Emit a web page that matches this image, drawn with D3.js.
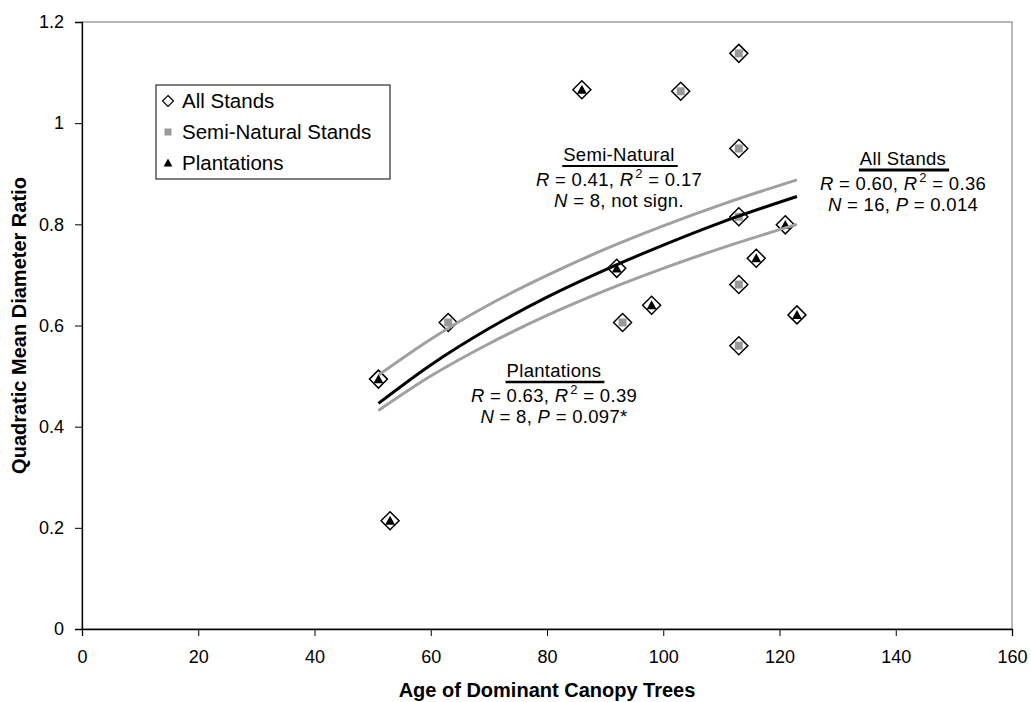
<!DOCTYPE html>
<html>
<head>
<meta charset="utf-8">
<script src="https://cdn.jsdelivr.net/npm/d3@7"></script>
<style>
  body { margin: 0; background: #fff; }
  svg text { font-family: "Liberation Sans", Arial, sans-serif; fill: #000; }
</style>
</head>
<body>
<div id="chart"></div>
<script>
// semi-natural stands
const semiAge = [113, 103, 113, 113, 113, 93, 63, 113];
const semiQmd = [1.138, 1.063, 0.950, 0.815, 0.681, 0.606, 0.606, 0.560];
// plantations
const plantAge = [86, 121, 116, 92, 98, 123, 51, 53];
const plantQmd = [1.066, 0.799, 0.733, 0.713, 0.640, 0.621, 0.494, 0.214];

// fitted curve (all stands) and confidence band
const curveAge = [51, 60, 70, 80, 90, 100, 110, 123];
const fitQmd = [0.446, 0.522, 0.594, 0.656, 0.710, 0.759, 0.804, 0.855];
const upperQmd = [0.502, 0.573, 0.641, 0.699, 0.751, 0.797, 0.839, 0.888];
const lowerQmd = [0.432, 0.500, 0.564, 0.620, 0.669, 0.713, 0.753, 0.800];

const xTicks = [0, 20, 40, 60, 80, 100, 120, 140, 160];
const yTicks = [0, 0.2, 0.4, 0.6, 0.8, 1, 1.2];
const legendItems = ['All Stands', 'Semi-Natural Stands', 'Plantations'];

const width = 1031, height = 702;
const margin = { top: 22, right: 19, bottom: 73, left: 82 };
const plotW = width - margin.left - margin.right;
const plotH = height - margin.top - margin.bottom;

const svg = d3.select('#chart').append('svg')
    .attr('width', width)
    .attr('height', height);

const plot = svg.append('g')
    .attr('transform', `translate(${margin.left},${margin.top})`);

const x = d3.scaleLinear().domain([0, 160]).range([0, plotW]);
const y = d3.scaleLinear().domain([0, 1.2]).range([plotH, 0]);

// plot frame (grey top/right)
plot.append('rect')
    .attr('x', 0).attr('y', 0)
    .attr('width', plotW).attr('height', plotH)
    .attr('fill', 'none')
    .attr('stroke', '#a0a0a0')
    .attr('stroke-width', 1.5);

// axes
const xAxis = plot.append('g')
    .attr('transform', `translate(0,${plotH})`)
    .call(d3.axisBottom(x).tickValues(xTicks).tickSize(7).tickPadding(14).tickFormat(d3.format('d')));
const yAxis = plot.append('g')
    .call(d3.axisLeft(y).tickValues(yTicks).tickSize(7).tickPadding(11).tickFormat(d => d === 0 ? '0' : d === 1 ? '1' : d.toFixed(1)));

[xAxis, yAxis].forEach(g => {
    g.select('.domain').attr('stroke', '#000').attr('stroke-width', 1.3);
    g.selectAll('.tick line').attr('stroke', '#000').attr('stroke-width', 1);
    g.selectAll('.tick text')
        .attr('font-size', '18px')
        .attr('font-family', '"Liberation Sans", Arial, sans-serif')
        .attr('fill', '#000');
});

// axis titles
svg.append('text')
    .attr('x', margin.left + plotW / 2)
    .attr('y', 697)
    .attr('text-anchor', 'middle')
    .attr('font-size', '20px')
    .attr('font-weight', 'bold')
    .text('Age of Dominant Canopy Trees');

svg.append('text')
    .attr('transform', 'rotate(-90)')
    .attr('x', -(margin.top + plotH / 2))
    .attr('y', 26)
    .attr('text-anchor', 'middle')
    .attr('font-size', '20px')
    .attr('font-weight', 'bold')
    .text('Quadratic Mean Diameter Ratio');

// markers
const semi = semiAge.map((a, i) => ({ age: a, qmd: semiQmd[i], type: 'semi' }));
const plant = plantAge.map((a, i) => ({ age: a, qmd: plantQmd[i], type: 'plant' }));
const all = semi.concat(plant);

const diamond = r => `M0,${-r}L${r},0L0,${r}L${-r},0Z`;
const triangle = s => `M0,${-s * 0.55}L${s * 0.55},${s * 0.45}L${-s * 0.55},${s * 0.45}Z`;

const markerLayer = plot.append('g');
const pts = markerLayer.selectAll('g.pt')
    .data(all)
    .join('g')
    .attr('class', 'pt')
    .attr('transform', d => `translate(${x(d.age)},${y(d.qmd)})`);

pts.append('path')
    .attr('d', diamond(9))
    .attr('fill', '#fff')
    .attr('stroke', '#000')
    .attr('stroke-width', 1.5);

pts.filter(d => d.type === 'semi').append('rect')
    .attr('x', -4).attr('y', -4)
    .attr('width', 8).attr('height', 8)
    .attr('fill', '#999');

pts.filter(d => d.type === 'plant').append('path')
    .attr('d', triangle(9))
    .attr('fill', '#000');

// regression lines
const line = d3.line()
    .x(d => x(d[0]))
    .y(d => y(d[1]))
    .curve(d3.curveMonotoneX);

const lineLayer = plot.append('g');
[upperQmd, lowerQmd].forEach(vals => {
    lineLayer.append('path')
        .datum(curveAge.map((a, i) => [a, vals[i]]))
        .attr('d', line)
        .attr('fill', 'none')
        .attr('stroke', '#a0a0a0')
        .attr('stroke-width', 3);
});
lineLayer.append('path')
    .datum(curveAge.map((a, i) => [a, fitQmd[i]]))
    .attr('d', line)
    .attr('fill', 'none')
    .attr('stroke', '#000')
    .attr('stroke-width', 3);

// legend
const legend = svg.append('g').attr('transform', 'translate(156,85)');
legend.append('rect')
    .attr('width', 234).attr('height', 94)
    .attr('fill', '#fff')
    .attr('stroke', '#000')
    .attr('stroke-width', 1);

legendItems.forEach((label, i) => {
    const row = legend.append('g').attr('transform', `translate(0,${16 + i * 31})`);
    if (i === 0) {
        row.append('path').attr('transform', 'translate(12,0)')
            .attr('d', diamond(5.5)).attr('fill', '#fff').attr('stroke', '#000').attr('stroke-width', 1.2);
    } else if (i === 1) {
        row.append('rect').attr('x', 8.5).attr('y', -3.5).attr('width', 7).attr('height', 7).attr('fill', '#999');
    } else {
        row.append('path').attr('transform', 'translate(12,0)').attr('d', triangle(8)).attr('fill', '#000');
    }
    row.append('text')
        .attr('x', 26).attr('y', 7)
        .attr('font-size', '20.5px')
        .text(label);
});

// statistics annotations
function annotation(cx, y0, title, lines, underlineW) {
    const g = svg.append('g');
    const t = g.append('text')
        .attr('x', cx).attr('y', y0)
        .attr('text-anchor', 'middle')
        .attr('font-size', '18.5px')
        .attr('letter-spacing', '0.3px')
        .text(title);
    const bb = t.node().getBBox();
    g.append('line')
        .attr('x1', bb.x - 1).attr('x2', bb.x + bb.width + 3)
        .attr('y1', y0 + 5).attr('y2', y0 + 5)
        .attr('stroke', '#000')
        .attr('stroke-width', underlineW);
    lines.forEach((parts, i) => {
        const tx = g.append('text')
            .attr('x', cx).attr('y', y0 + 25 + i * 21)
            .attr('text-anchor', 'middle')
            .attr('font-size', '18.5px')
            .attr('letter-spacing', '0.3px');
        parts.forEach(p => {
            const s = tx.append('tspan').text(p.t);
            if (p.i) s.attr('font-style', 'italic');
            if (p.sup) s.attr('dy', -8).attr('dx', 2).attr('font-size', '13px');
            if (p.after) s.attr('dy', 8);
        });
    });
}

annotation(619, 161, 'Semi-Natural', [
    [{ t: 'R', i: true }, { t: '  =  0.41,   ' }, { t: 'R', i: true }, { t: '2', sup: true }, { t: ' = 0.17', after: true }],
    [{ t: 'N', i: true }, { t: '  =  8, not sign.' }]
], 2);

annotation(903, 165, 'All Stands', [
    [{ t: 'R', i: true }, { t: '  =  0.60, ' }, { t: 'R', i: true }, { t: '2', sup: true }, { t: ' = 0.36', after: true }],
    [{ t: 'N', i: true }, { t: '  =  16, ' }, { t: 'P', i: true }, { t: '  =  0.014' }]
], 3);

annotation(554, 377, 'Plantations', [
    [{ t: 'R', i: true }, { t: '  =  0.63, ' }, { t: 'R', i: true }, { t: '2', sup: true }, { t: ' = 0.39', after: true }],
    [{ t: 'N', i: true }, { t: '  =  8, ' }, { t: 'P', i: true }, { t: '  =  0.097*' }]
], 2.5);
</script>
</body>
</html>
